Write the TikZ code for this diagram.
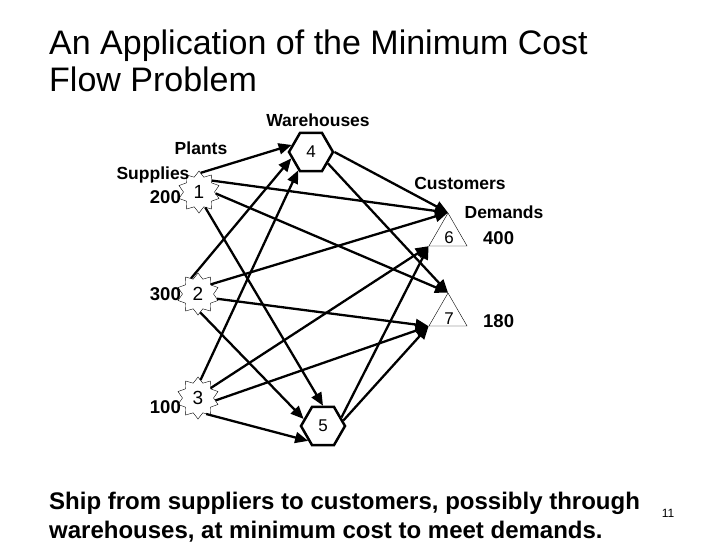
\documentclass[tikz,border=0pt]{standalone}
\usepackage{fontspec}
\setmainfont{Liberation Sans}
\usepackage{tikz}
\usetikzlibrary{positioning,arrows.meta,shapes.geometric}

\begin{document}
\begin{tikzpicture}[x=1pt, y=-1pt,
  plant/.style={draw, thin, star, star points=10, star point ratio=1.35,
                minimum size=42pt, inner sep=0pt,
                font=\fontsize{19}{19}\selectfont},
  whse/.style={draw, line width=2.5pt, regular polygon,
               regular polygon sides=6, minimum size=44pt, inner sep=0pt,
               font=\fontsize{17}{17}\selectfont},
  cust/.style={draw, thin, regular polygon, regular polygon sides=3,
               minimum size=44pt, inner sep=0pt},
  dgt/.style={font=\fontsize{17}{17}\selectfont, inner sep=0pt},
  lbl/.style={font=\fontsize{17.5}{17.5}\selectfont\bfseries,
              inner sep=0pt, anchor=base},
  qty/.style={font=\fontsize{18.5}{18.5}\selectfont\bfseries,
              inner sep=0pt},
  ar/.style={-{Triangle[length=13pt,width=11pt]}, line width=2.3pt},
]
  \path[fill=white] (0,0) rectangle (720,540);

  %% Title and caption
  \node[anchor=north west, align=left, inner sep=0pt,
        font=\fontsize{34}{37}\selectfont] (title) at (49,30)
        {An Application of the Minimum Cost\\Flow Problem};
  \node[anchor=north west, align=left, inner sep=0pt,
        font=\fontsize{24}{29}\selectfont\bfseries] (note) at (49,492)
        {Ship from suppliers to customers, possibly through\\
         warehouses, at minimum cost to meet demands.};
  \node[font=\fontsize{12}{12}\selectfont, anchor=base] (pg) at (668,517) {11};

  %% Plants, warehouses, customers
  \node[plant] (p1) at (199,192) {1};
  \node[plant] (p2) at (198,294) {2};
  \node[plant] (p3) at (198,398) {3};
  \node[whse]  (w4) at (311,152) {4};
  \node[whse]  (w5) at (323,426) {5};
  \node[cust]  (c6) at (448,235) {};
  \node[dgt]   (n6) at (449,238) {6};
  \node[cust]  (c7) at (448,315) {};
  \node[dgt]   (n7) at (449,319) {7};

  %% Group labels
  \node[lbl] (whs)  at (318,126) {Warehouses};
  \node[lbl] (pla)  at (201,154) {Plants};
  \node[lbl] (sup)  at (153,179) {Supplies};
  \node[lbl] (cus)  at (460,189) {Customers};
  \node[lbl] (dem)  at (504,218) {Demands};

  %% Supplies and demands
  \node[qty, anchor=base east] (s1) at (181,203) {200};
  \node[qty, anchor=base east] (s2) at (181,300) {300};
  \node[qty, anchor=base east] (s3) at (181,413) {100};
  \node[qty, anchor=base west] (d6) at (483,244) {400};
  \node[qty, anchor=base west] (d7) at (483,327) {180};

  %% Shipping arcs
  \foreach \a/\b in {p1.85/w4.160, p1.42/c6.corner 1, p1.355/c7.corner 1,
                     p1.292/w5.north,
                     p2.114/w4.198, p2.37/c6.corner 1, p2.346/c7.corner 2,
                     p2.277/w5.160,
                     p3.82/w4.235, p3.38/c6.corner 2, p3.352/c7.corner 2,
                     p3.297/w5.225,
                     w4.0/c6.corner 1, w4.326/c7.corner 1,
                     w5.25/c6.corner 2, w5.15/c7.corner 2}
    \draw[ar] (\a) -- (\b);
\end{tikzpicture}
\end{document}
